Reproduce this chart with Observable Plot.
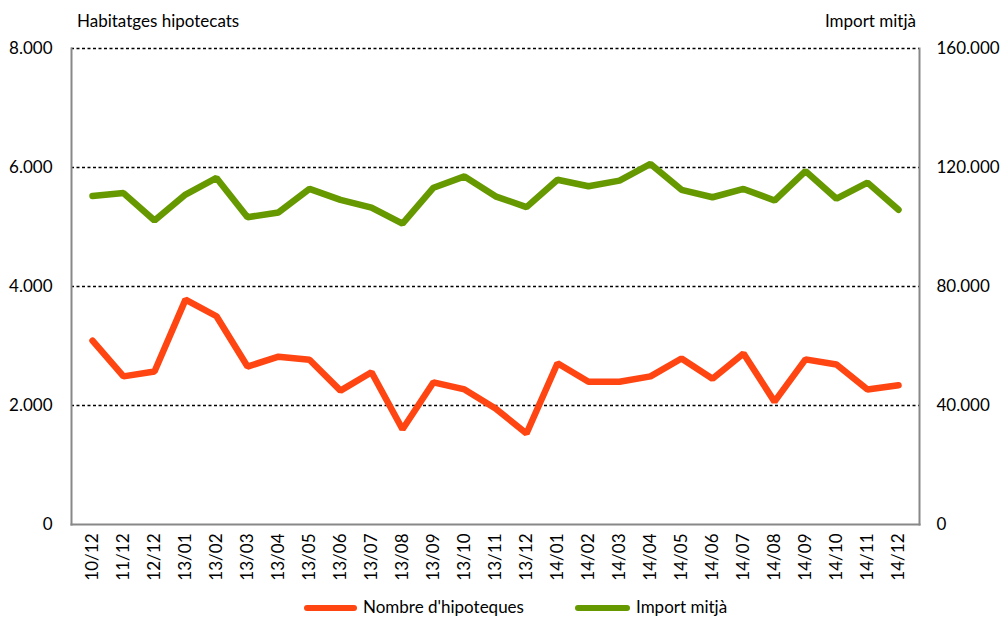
<!DOCTYPE html>
<html>
<head>
<meta charset="utf-8">
<script src="https://cdn.jsdelivr.net/npm/d3@7"></script>
<script src="https://cdn.jsdelivr.net/npm/@observablehq/plot@0.6"></script>
<style>
  html, body { margin: 0; padding: 0; background: #fff; }
  #wrap { position: relative; width: 1001px; height: 619px; overflow: hidden; font-family: Lato, "Open Sans", sans-serif; font-size: 17px; color: #000; }
  #chart { position: absolute; left: 0; top: 0; }
  .lbl { position: absolute; white-space: nowrap; line-height: 1; }
  .sw { position: absolute; height: 6px; border-radius: 3px; }
</style>
</head>
<body>
<div id="wrap">
  <div id="chart"></div>
  <div class="lbl" style="left:77px; top:12px;">Habitatges hipotecats</div>
  <div class="lbl" style="right:85px; top:12px;">Import mitjà</div>
  <div class="sw" style="left:304px; top:605px; width:53px; background:#FF4512;"></div>
  <div class="lbl" style="left:363px; top:598px;">Nombre d'hipoteques</div>
  <div class="sw" style="left:575px; top:605px; width:55px; background:#669900;"></div>
  <div class="lbl" style="left:636px; top:598px;">Import mitjà</div>
</div>
<script>
const months = ["10/12","11/12","12/12","13/01","13/02","13/03","13/04","13/05","13/06","13/07","13/08","13/09","13/10","13/11","13/12","14/01","14/02","14/03","14/04","14/05","14/06","14/07","14/08","14/09","14/10","14/11","14/12"];
const hipoteques = [3090,2490,2570,3780,3500,2655,2820,2770,2250,2560,1600,2390,2270,1950,1530,2710,2400,2400,2490,2790,2450,2875,2065,2775,2690,2270,2340];
const importMitja = [110400,111400,102200,110900,116500,103300,104900,112800,109100,106500,101100,113200,117000,110300,106700,115900,113700,115600,121200,112500,110000,112800,108900,118800,109500,114900,105800];
const leftTicks = [0,2000,4000,6000,8000];
const rightTicks = [0,40000,80000,120000,160000];
const seriesNames = ["Nombre d'hipoteques","Import mitjà"];

const ratio = 20; // right axis = left axis * 20
const fmt = d3.formatLocale({decimal: ",", thousands: ".", grouping: [3]}).format(",");

const rows = [];
months.forEach((m, i) => {
  rows.push({month: m, series: seriesNames[0], v: hipoteques[i]});
  rows.push({month: m, series: seriesNames[1], v: importMitja[i] / ratio});
});

const plot = Plot.plot({
  width: 1001,
  height: 619,
  marginLeft: 71,
  marginRight: 82,
  marginTop: 48,
  marginBottom: 95,
  style: {fontFamily: "Lato, 'Open Sans', sans-serif", fontSize: "17px", color: "#000", background: "#fff"},
  x: {type: "point", domain: months, padding: 0.5},
  y: {domain: [0, 8000]},
  color: {domain: seriesNames, range: ["#FF4512", "#669900"]},
  marks: [
    Plot.ruleY(leftTicks.filter(d => d > 0), {stroke: "#000", strokeWidth: 1.6, strokeDasharray: "3,2.5"}),
    Plot.frame({anchor: "left", stroke: "#888", strokeWidth: 2}),
    Plot.frame({anchor: "right", stroke: "#888", strokeWidth: 2}),
    Plot.frame({anchor: "bottom", stroke: "#888", strokeWidth: 2}),
    Plot.axisY({anchor: "left", ticks: leftTicks, tickSize: 0, tickPadding: 19, tickFormat: d => fmt(d), label: null}),
    Plot.axisY({anchor: "right", ticks: rightTicks.map(d => d / ratio), tickSize: 0, tickPadding: 17, tickFormat: d => fmt(d * ratio), label: null}),
    Plot.axisX({anchor: "bottom", tickSize: 0, tickPadding: 9, tickRotate: -90, label: null}),
    Plot.line(rows, {x: "month", y: "v", z: "series", stroke: "series", strokeWidth: 6.5, strokeLinecap: "round", strokeLinejoin: "miter"})
  ]
});
document.getElementById("chart").appendChild(plot);
</script>
</body>
</html>
